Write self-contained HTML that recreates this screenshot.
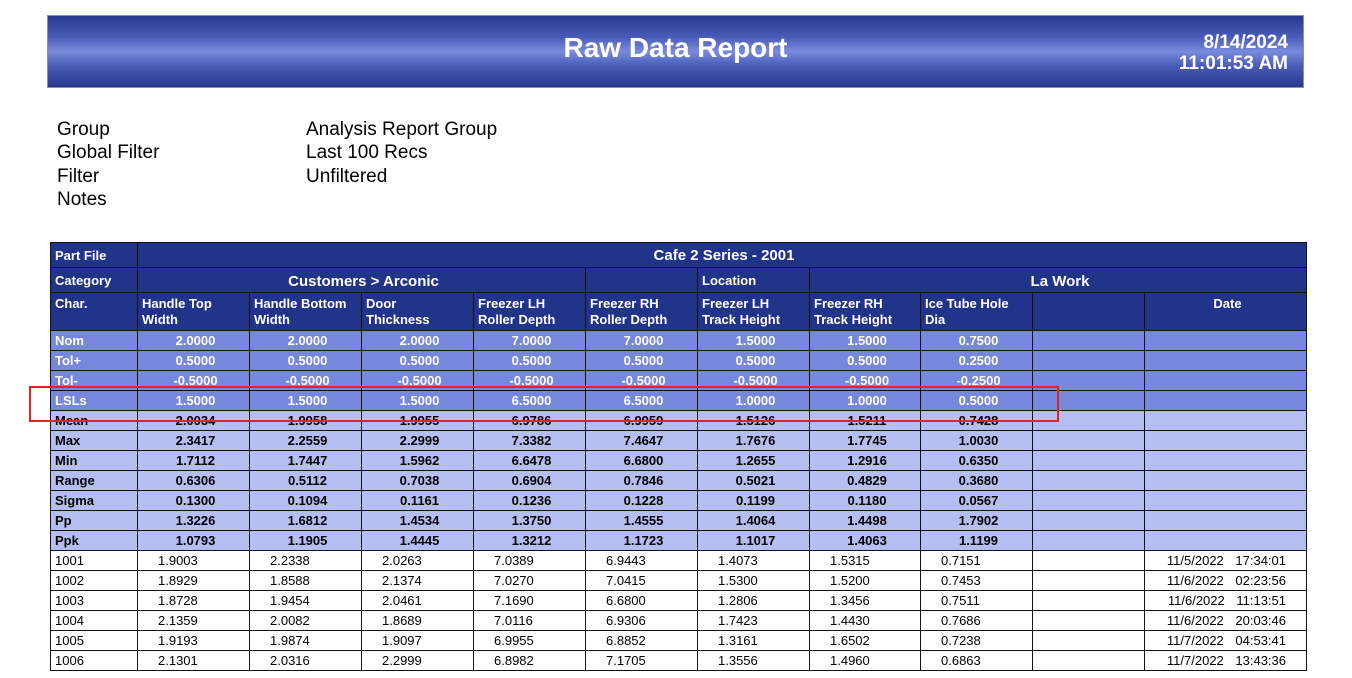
<!DOCTYPE html>
<html><head><meta charset="utf-8">
<style>
html,body{margin:0;padding:0;width:1352px;height:678px;overflow:hidden;background:#fff;font-family:"Liberation Sans",Arial,sans-serif;}
.banner{position:absolute;left:47px;top:15px;width:1257px;height:73px;background:linear-gradient(#26388e 0%,#4a5cb8 30%,#7a8bdc 50%,#4a5cb8 70%,#26388e 100%);border:1px solid #8890b0;box-sizing:border-box;}
.title{position:absolute;left:0;right:0;top:16px;text-align:center;color:#fff;font-weight:bold;font-size:28px;}
.dt{position:absolute;right:15px;top:16px;text-align:right;color:#fff;font-weight:bold;font-size:19px;line-height:21px;}
.info{position:absolute;font-size:19px;line-height:23.3px;top:118px;}
table{position:absolute;left:50px;top:242px;border-collapse:collapse;table-layout:fixed;width:1256px;font-size:13px;}
td{border:1px solid #111;padding:0 0 0 4px;height:20px;white-space:nowrap;overflow:hidden;box-sizing:border-box;}
.d td{background:#22338a;color:#fff;font-weight:bold;}
.h td{vertical-align:top;line-height:16px;height:38px;padding-top:3px;}
.m td{background:#7787de;color:#fff;font-weight:bold;text-align:center;}
.s td{background:#b4bef0;color:#000;font-weight:bold;text-align:center;}
.m td:first-child,.s td:first-child{text-align:left;}
.r td{color:#000;padding-left:20px;}
.r td:first-child{padding-left:4px;}
.r td:last-child{text-align:right;padding-right:20px;word-spacing:8px;}
.box{position:absolute;left:29px;top:386px;width:1030px;height:36px;border:2px solid #e8202a;box-sizing:border-box;}
</style></head><body>
<div class="banner">
<div class="title">Raw Data Report</div>
<div class="dt">8/14/2024<br>11:01:53 AM</div>
</div>
<div class="info" style="left:57px">Group<br>Global Filter<br>Filter<br>Notes</div>
<div class="info" style="left:306px">Analysis Report Group<br>Last 100 Recs<br>Unfiltered</div>
<table>
<colgroup><col style="width:87px"><col style="width:112px"><col style="width:112px"><col style="width:112px"><col style="width:112px"><col style="width:112px"><col style="width:112px"><col style="width:111px"><col style="width:112px"><col style="width:112px"><col style="width:162px"></colgroup>
<tr class="d" style="height:25px"><td style="height:25px">Part File</td><td colspan="10" style="text-align:center;font-size:15px">Cafe 2 Series - 2001</td></tr>
<tr class="d"><td style="height:25px">Category</td><td colspan="4" style="text-align:center;font-size:15px;padding-top:3px">Customers &gt; Arconic</td><td style="padding:0"><div style="display:flex;height:24px"><div style="flex:1"></div></div></td><td style="font-size:13px">Location</td><td colspan="4" style="text-align:center;font-size:15px;padding-top:3px">La Work</td></tr>
<tr class="d h"><td>Char.</td><td>Handle Top<br>Width</td><td>Handle Bottom<br>Width</td><td>Door<br>Thickness</td><td>Freezer LH<br>Roller Depth</td><td>Freezer RH<br>Roller Depth</td><td>Freezer LH<br>Track Height</td><td>Freezer RH<br>Track Height</td><td>Ice Tube Hole<br>Dia</td><td></td><td style="text-align:center">Date</td></tr>
<tr class="m"><td>Nom</td><td>2.0000</td><td>2.0000</td><td>2.0000</td><td>7.0000</td><td>7.0000</td><td>1.5000</td><td>1.5000</td><td>0.7500</td><td></td><td></td></tr>
<tr class="m"><td>Tol+</td><td>0.5000</td><td>0.5000</td><td>0.5000</td><td>0.5000</td><td>0.5000</td><td>0.5000</td><td>0.5000</td><td>0.2500</td><td></td><td></td></tr>
<tr class="m"><td>Tol-</td><td>-0.5000</td><td>-0.5000</td><td>-0.5000</td><td>-0.5000</td><td>-0.5000</td><td>-0.5000</td><td>-0.5000</td><td>-0.2500</td><td></td><td></td></tr>
<tr class="m"><td>LSLs</td><td>1.5000</td><td>1.5000</td><td>1.5000</td><td>6.5000</td><td>6.5000</td><td>1.0000</td><td>1.0000</td><td>0.5000</td><td></td><td></td></tr>
<tr class="s"><td>Mean</td><td>2.0034</td><td>1.9958</td><td>1.9955</td><td>6.9786</td><td>6.9959</td><td>1.5126</td><td>1.5211</td><td>0.7428</td><td></td><td></td></tr>
<tr class="s"><td>Max</td><td>2.3417</td><td>2.2559</td><td>2.2999</td><td>7.3382</td><td>7.4647</td><td>1.7676</td><td>1.7745</td><td>1.0030</td><td></td><td></td></tr>
<tr class="s"><td>Min</td><td>1.7112</td><td>1.7447</td><td>1.5962</td><td>6.6478</td><td>6.6800</td><td>1.2655</td><td>1.2916</td><td>0.6350</td><td></td><td></td></tr>
<tr class="s"><td>Range</td><td>0.6306</td><td>0.5112</td><td>0.7038</td><td>0.6904</td><td>0.7846</td><td>0.5021</td><td>0.4829</td><td>0.3680</td><td></td><td></td></tr>
<tr class="s"><td>Sigma</td><td>0.1300</td><td>0.1094</td><td>0.1161</td><td>0.1236</td><td>0.1228</td><td>0.1199</td><td>0.1180</td><td>0.0567</td><td></td><td></td></tr>
<tr class="s"><td>Pp</td><td>1.3226</td><td>1.6812</td><td>1.4534</td><td>1.3750</td><td>1.4555</td><td>1.4064</td><td>1.4498</td><td>1.7902</td><td></td><td></td></tr>
<tr class="s"><td>Ppk</td><td>1.0793</td><td>1.1905</td><td>1.4445</td><td>1.3212</td><td>1.1723</td><td>1.1017</td><td>1.4063</td><td>1.1199</td><td></td><td></td></tr>
<tr class="r"><td>1001</td><td>1.9003</td><td>2.2338</td><td>2.0263</td><td>7.0389</td><td>6.9443</td><td>1.4073</td><td>1.5315</td><td>0.7151</td><td></td><td>11/5/2022 17:34:01</td></tr>
<tr class="r"><td>1002</td><td>1.8929</td><td>1.8588</td><td>2.1374</td><td>7.0270</td><td>7.0415</td><td>1.5300</td><td>1.5200</td><td>0.7453</td><td></td><td>11/6/2022 02:23:56</td></tr>
<tr class="r"><td>1003</td><td>1.8728</td><td>1.9454</td><td>2.0461</td><td>7.1690</td><td>6.6800</td><td>1.2806</td><td>1.3456</td><td>0.7511</td><td></td><td>11/6/2022 11:13:51</td></tr>
<tr class="r"><td>1004</td><td>2.1359</td><td>2.0082</td><td>1.8689</td><td>7.0116</td><td>6.9306</td><td>1.7423</td><td>1.4430</td><td>0.7686</td><td></td><td>11/6/2022 20:03:46</td></tr>
<tr class="r"><td>1005</td><td>1.9193</td><td>1.9874</td><td>1.9097</td><td>6.9955</td><td>6.8852</td><td>1.3161</td><td>1.6502</td><td>0.7238</td><td></td><td>11/7/2022 04:53:41</td></tr>
<tr class="r"><td>1006</td><td>2.1301</td><td>2.0316</td><td>2.2999</td><td>6.8982</td><td>7.1705</td><td>1.3556</td><td>1.4960</td><td>0.6863</td><td></td><td>11/7/2022 13:43:36</td></tr>
</table>
<div class="box"></div>
</body></html>
